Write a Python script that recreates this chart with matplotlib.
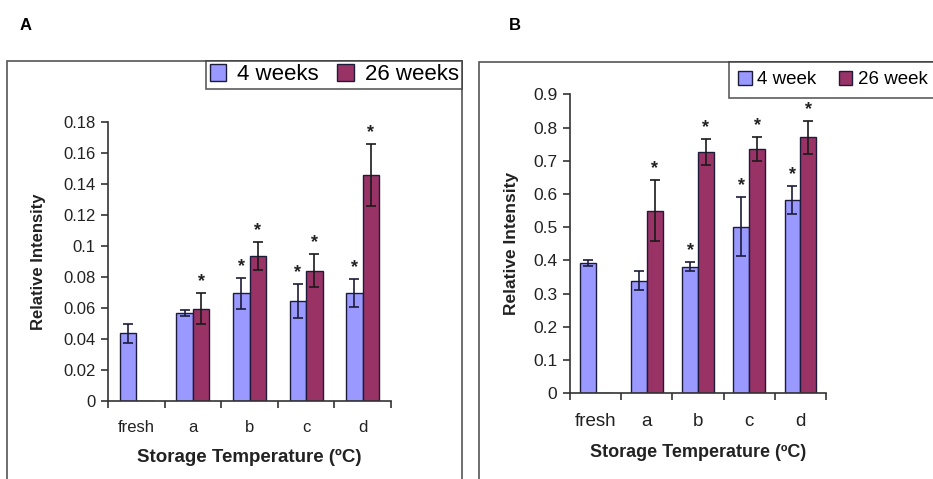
import numpy as np
import matplotlib.pyplot as plt
from matplotlib.patches import Rectangle

plt.rcParams['font.family'] = ['Liberation Sans', 'DejaVu Sans']

categories = ["fresh", "a", "b", "c", "d"]

# panel A
a_4wk = [0.0437, 0.0566, 0.0695, 0.0647, 0.0695]
a_4wk_err = [0.006, 0.002, 0.010, 0.011, 0.009]
a_26wk = [0.0, 0.0594, 0.0935, 0.0841, 0.1458]
a_26wk_err = [0.0, 0.010, 0.009, 0.0105, 0.020]
a_star_4wk = [False, False, True, True, True]
a_star_26wk = [False, True, True, True, True]
a_yticks = [0, 0.02, 0.04, 0.06, 0.08, 0.1, 0.12, 0.14, 0.16, 0.18]
a_yticklabels = ["0", "0.02", "0.04", "0.06", "0.08", "0.1", "0.12", "0.14", "0.16", "0.18"]

# panel B
b_4wk = [0.391, 0.339, 0.381, 0.502, 0.582]
b_4wk_err = [0.009, 0.029, 0.013, 0.088, 0.042]
b_26wk = [0.0, 0.550, 0.727, 0.735, 0.770]
b_26wk_err = [0.0, 0.092, 0.039, 0.036, 0.051]
b_star_4wk = [False, False, True, True, True]
b_star_26wk = [False, True, True, True, True]
b_yticks = [0, 0.1, 0.2, 0.3, 0.4, 0.5, 0.6, 0.7, 0.8, 0.9]
b_yticklabels = ["0", "0.1", "0.2", "0.3", "0.4", "0.5", "0.6", "0.7", "0.8", "0.9"]

C4 = "#9999ff"
C26 = "#993366"
EDGE = "#1c1c3a"

W, H = 933, 479
fig = plt.figure(figsize=(W / 100, H / 100), dpi=100)


def px_rect(x0, y0, x1, y1):
    return [x0 / W, 1 - y1 / H, (x1 - x0) / W, (y1 - y0) / H]


def draw_panel(ax, v4, e4, v26, e26, s4, s26, width, yticks, yticklabels,
               ytick_fs, xtick_fs, xlabel_fs, ylabel_fs, ylabel_pad):
    x = np.arange(len(categories))
    ax.bar(x - width / 2, v4, width, color=C4, edgecolor=EDGE, linewidth=1, zorder=2)
    ax.bar(x + width / 2, v26, width, color=C26, edgecolor=EDGE, linewidth=1, zorder=2)
    for i in range(len(categories)):
        if e4[i] > 0:
            ax.errorbar(x[i] - width / 2, v4[i], yerr=e4[i], color=EDGE, capsize=3.5,
                        elinewidth=1.2, capthick=1.2, zorder=3)
        if e26[i] > 0:
            ax.errorbar(x[i] + width / 2, v26[i], yerr=e26[i], color="#1a1a1a", capsize=3.5,
                        elinewidth=1.2, capthick=1.2, zorder=3)
        if s4[i]:
            ax.annotate("*", (x[i] - width / 2, v4[i] + e4[i]), xytext=(0, 5),
                        textcoords="offset points", ha="center", va="baseline",
                        fontsize=13, fontweight="bold", color="#222222")
        if s26[i]:
            ax.annotate("*", (x[i] + width / 2, v26[i] + e26[i]), xytext=(0, 5),
                        textcoords="offset points", ha="center", va="baseline",
                        fontsize=13, fontweight="bold", color="#222222")
    ax.set_xlim(-0.5, len(categories) - 0.5)
    ax.set_ylim(yticks[0], yticks[-1])
    ax.set_yticks(yticks)
    ax.set_yticklabels(yticklabels, fontsize=ytick_fs, color="#222222")
    ax.set_xticks(np.arange(len(categories) + 1) - 0.5)
    ax.set_xticklabels([])
    ax.set_xticks(x, minor=True)
    ax.set_xticklabels(categories, minor=True, fontsize=xtick_fs, color="#222222")
    ax.tick_params(axis="x", which="minor", length=0, pad=14)
    ax.tick_params(axis="x", which="major", length=5, width=1.2, color="#333333")
    ax.tick_params(axis="y", length=5, width=1.2, color="#333333", pad=4)
    for side in ["top", "right"]:
        ax.spines[side].set_visible(False)
    for side in ["left", "bottom"]:
        ax.spines[side].set_linewidth(1.2)
        ax.spines[side].set_color("#333333")
    ax.set_xlabel("Storage Temperature (\u00baC)", fontsize=xlabel_fs, fontweight="bold",
                  labelpad=10, color="#222222")
    ax.set_ylabel("Relative Intensity", fontsize=ylabel_fs, fontweight="bold",
                  labelpad=ylabel_pad, color="#222222")


# outer frames
fig.patches.append(Rectangle((7 / W, -0.05), (462 - 7) / W, 1.05 - 61 / H,
                             transform=fig.transFigure, fill=False,
                             edgecolor="#555555", linewidth=1.2))
fig.patches.append(Rectangle((479 / W, -0.05), 0.6, 1.05 - 62 / H,
                             transform=fig.transFigure, fill=False,
                             edgecolor="#555555", linewidth=1.2))

axA = fig.add_axes(px_rect(108, 122, 391, 401))
draw_panel(axA, a_4wk, a_4wk_err, a_26wk, a_26wk_err, a_star_4wk, a_star_26wk,
           0.29, a_yticks, a_yticklabels, 12, 12, 13.5, 12, 12)

axB = fig.add_axes(px_rect(570, 94.3, 826, 393.3))
draw_panel(axB, b_4wk, b_4wk_err, b_26wk, b_26wk_err, b_star_4wk, b_star_26wk,
           0.31, b_yticks, b_yticklabels, 12.5, 13.5, 13, 12.5, 10)

# legends
hA = [Rectangle((0, 0), 1, 1, facecolor=C4, edgecolor=EDGE),
      Rectangle((0, 0), 1, 1, facecolor=C26, edgecolor=EDGE)]
legA = fig.legend(hA, ["4 weeks", "26 weeks"], loc="upper right",
                  bbox_to_anchor=(462 / W, 1 - 61 / H), ncol=2, fontsize=16,
                  frameon=True, fancybox=False, edgecolor="#333333",
                  borderpad=0.15, handlelength=0.75, handleheight=0.75,
                  handletextpad=0.5, columnspacing=0.8, borderaxespad=0)
legA.get_frame().set_linewidth(1.2)

legB = fig.legend(hA, ["4 week", "26 week"], loc="upper left",
                  bbox_to_anchor=(729 / W, 1 - 62 / H), ncol=2, fontsize=13.5,
                  frameon=True, fancybox=False, edgecolor="#333333",
                  borderpad=0.5, handlelength=0.7, handleheight=0.7,
                  handletextpad=0.3, columnspacing=1.2, borderaxespad=0)
legB.get_frame().set_linewidth(1.2)

fig.text(20 / W, 1 - 26 / H, "A", fontsize=12, fontweight="bold", ha="left", va="center")
fig.text(509 / W, 1 - 25 / H, "B", fontsize=12, fontweight="bold", ha="left", va="center")

fig.savefig("out.png", dpi=100)
